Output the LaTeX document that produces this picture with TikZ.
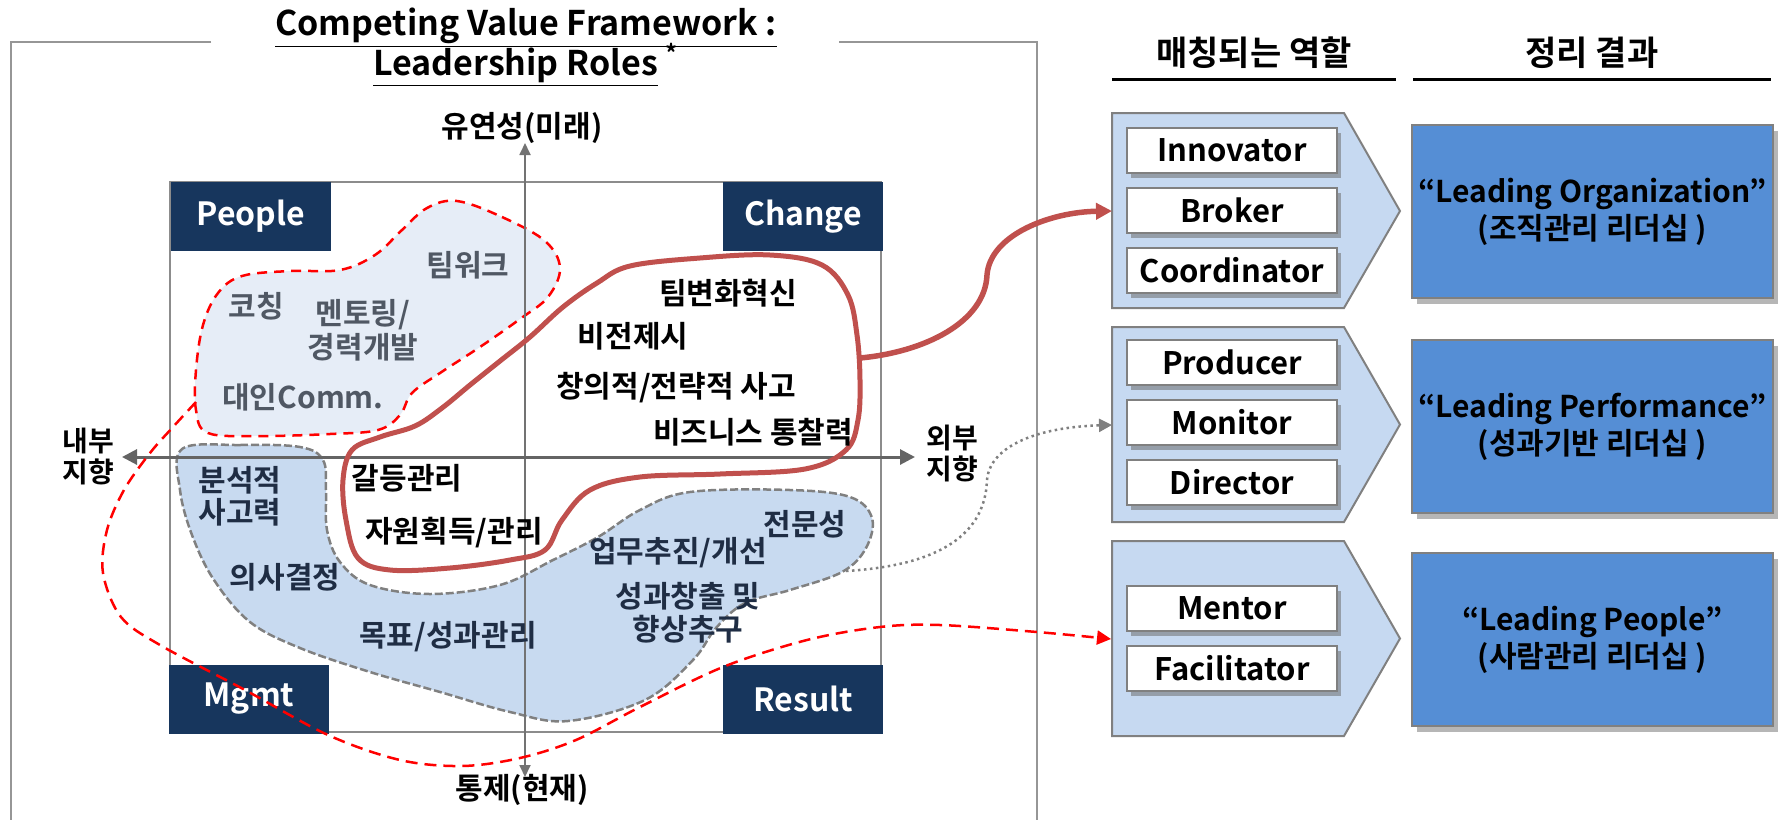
\documentclass[tikz,border=0pt]{standalone}
\usepackage{fontspec}
\setmainfont{Noto Sans CJK KR}[BoldFont={Noto Sans CJK KR Bold}]
\usetikzlibrary{arrows.meta,shadows}

\tikzset{every picture/.style={line width=0.75pt}}
\tikzset{
	corner box/.style={fill={rgb, 255:red, 23; green, 54; blue, 93}, text=white, minimum width=80pt, minimum height=34.5pt, inner sep=0pt, font=\fontsize{16}{19}\selectfont\bfseries},
	role box/.style={draw={rgb, 255:red, 128; green, 128; blue, 128}, line width=1pt, fill=white, minimum width=105pt, minimum height=22.5pt, inner sep=0pt, font=\fontsize{15.5}{18}\selectfont\bfseries, drop shadow={shadow xshift=2pt, shadow yshift=-2.5pt, fill={rgb, 255:red, 110; green, 110; blue, 110}, opacity=0.55}},
	result box/.style={draw={rgb, 255:red, 128; green, 128; blue, 128}, line width=1pt, fill={rgb, 255:red, 85; green, 142; blue, 213}, minimum width=180.5pt, minimum height=86.5pt, inner sep=0pt, align=center, font=\fontsize{15}{18.5}\selectfont\bfseries, drop shadow={shadow xshift=2.5pt, shadow yshift=-3pt, fill={rgb, 255:red, 110; green, 110; blue, 110}, opacity=0.5}},
	chevron/.style={draw={rgb, 255:red, 128; green, 128; blue, 128}, line width=1pt, fill={rgb, 255:red, 198; green, 217; blue, 241}},
	quad text/.style={font=\fontsize{15}{16.5}\selectfont\bfseries, align=center, inner sep=0pt},
	soft text/.style={quad text, text={rgb, 255:red, 80; green, 88; blue, 100}},
	navy text/.style={quad text, text={rgb, 255:red, 31; green, 45; blue, 68}},
	head text/.style={font=\fontsize{17}{19}\selectfont\bfseries, inner sep=0pt},
	title text/.style={font=\fontsize{17}{19}\selectfont\bfseries, inner sep=0pt}
}

\begin{document}
\begin{tikzpicture}[x=0.5pt,y=0.5pt,yscale=-1,xscale=1]
	\useasboundingbox (0,0) rectangle (1779,820);

	%Shape: Outer frame
	\draw [color={rgb, 255:red, 150; green, 150; blue, 150}, line width=1pt] (211,42) -- (11,42) -- (11,820) ;
	\draw [color={rgb, 255:red, 150; green, 150; blue, 150}, line width=1pt] (839,42) -- (1037,42) -- (1037,820) ;
	%Shape: Rectangle (quadrant frame)
	\draw [color={rgb, 255:red, 140; green, 140; blue, 140}, line width=1pt] (170,182) -- (881,182) -- (881,732) -- (170,732) -- cycle ;

	%Shape: Blob (people)
	\draw [color={rgb, 255:red, 255; green, 0; blue, 0}, line width=1.25pt, dash pattern=on 5pt off 3.5pt, fill={rgb, 255:red, 230; green, 237; blue, 247}]
		plot [smooth cycle, tension=0.6] coordinates {(457,201) (502,217) (545,241) (560,268) (548,297) (520,319) (480,347) (440,373) (412,393) (400,415) (378,430) (330,434) (260,436) (208,433) (196,410) (196,370) (203,325) (218,293) (242,276) (290,271) (340,270) (375,255) (402,230) (427,208)} ;
	%Shape: Blob (management / result)
	\draw [color={rgb, 255:red, 128; green, 128; blue, 128}, line width=1.25pt, dash pattern=on 4pt off 1.5pt, fill={rgb, 255:red, 200; green, 218; blue, 240}]
		plot [smooth cycle, tension=0.6] coordinates {(182,449) (240,445) (300,447) (323,460) (326,490) (327,530) (340,562) (370,585) (430,594) (500,585) (553,560) (598,537) (640,510) (690,492) (790,490) (850,497) (872,518) (866,548) (842,572) (790,590) (745,603) (716,628) (693,660) (645,700) (568,721) (510,712) (440,692) (370,672) (300,648) (250,622) (214,580) (192,535) (180,490)} ;

	%Straight Lines (axes)
	\coordinate (yT) at (525,143) ;
	\coordinate (yB) at (525,777) ;
	\coordinate (xL) at (122,457) ;
	\coordinate (xR) at (915,457) ;
	\draw [color={rgb, 255:red, 115; green, 115; blue, 115}, line width=0.9pt, {Triangle[length=6pt,width=5.5pt]}-{Triangle[length=6pt,width=5.5pt]}] (yB) -- (yT) ;
	\draw [color={rgb, 255:red, 100; green, 100; blue, 100}, line width=1.5pt, {Triangle[length=7.5pt,width=7.5pt]}-{Triangle[length=7.5pt,width=7.5pt]}] (xL) -- (xR) ;

	%Shape: Rectangle (corner boxes)
	\draw (251,216.5) node [corner box] (people) {People};
	\draw (803,216.5) node [corner box] (change) {Change};
	\draw (249,699) node [corner box] (mgmt) {Mgmt};
	\draw (803,699) node [corner box] (result) {Result};

	%Curve (change)
	\draw [color={rgb, 255:red, 192; green, 80; blue, 77}, line width=2.5pt]
		plot [smooth cycle, tension=0.6] coordinates {(630,266) (700,258) (770,255) (822,265) (848,295) (857,335) (860,380) (858,420) (846,450) (805,469) (720,474) (640,477) (590,490) (562,520) (545,550) (510,560) (450,568) (390,570) (358,558) (346,520) (343,480) (352,450) (380,437) (415,426) (442,408) (470,385) (500,361) (530,337) (563,307) (597,283)} ;

	%Shape: Chevron
	\draw [chevron] (1112,113) -- (1344,113) -- (1400,211) -- (1344,308) -- (1112,308) -- cycle ;
	\draw [chevron] (1112,327) -- (1344,327) -- (1400,424.5) -- (1344,522) -- (1112,522) -- cycle ;
	\draw [chevron] (1112,541) -- (1344,541) -- (1400,638.5) -- (1344,736) -- (1112,736) -- cycle ;
	\coordinate (chevA) at (1112,211) ;
	\coordinate (chevB) at (1112,425) ;
	\coordinate (chevC) at (1111,639) ;

	% Text Node
	\draw (1232,150.5) node [role box] (innov) {Innovator};
	\draw (1232,210.5) node [role box] (broker) {Broker};
	\draw (1232,270.5) node [role box] (coord) {Coordinator};
	\draw (1232,362.5) node [role box] (prod) {Producer};
	\draw (1232,422.5) node [role box] (monit) {Monitor};
	\draw (1232,482.5) node [role box] (direct) {Director};
	\draw (1232,608.5) node [role box] (mentor) {Mentor};
	\draw (1232,668.5) node [role box] (facil) {Facilitator};

	% Text Node
	\draw (1592.5,211.5) node [result box] (leadorg) {“Leading Organization”\\(조직관리 리더십 )};
	\draw (1592.5,426.5) node [result box] (leadperf) {“Leading Performance”\\(성과기반 리더십 )};
	\draw (1592.5,639.5) node [result box] (leadppl) {“Leading People”\\(사람관리 리더십 )};

	% Text Node (headers)
	\draw (1254,53) node [head text] (hrole) {매칭되는 역할};
	\draw (1592,53) node [head text] (hsum) {정리 결과};
	\draw [line width=1.5pt] (1112,79) -- (1396,79) ;
	\draw [line width=1.5pt] (1413,79) -- (1771,79) ;

	% Text Node (title)
	\draw (526,28) node [title text] (titlea) {\underline{Competing Value Framework :}};
	\draw (526,65) node [title text] (titleb) {\underline{Leadership Roles} \textsuperscript{*}};

	% Text Node (axes)
	\draw (522,128) node [quad text] (future) {유연성(미래)};
	\draw (522,790) node [quad text] (present) {통제(현재)};
	\draw (88,457) node [quad text, font=\fontsize{14}{15.5}\selectfont\bfseries] (inner) {내부\\지향};
	\draw (952,453) node [quad text, font=\fontsize{14}{15.5}\selectfont\bfseries] (outer) {외부\\지향};

	% Text Node (people)
	\draw (468,265) node [soft text] (teamwork) {팀워크};
	\draw (256,306) node [soft text] (coach) {코칭};
	\draw (363,330) node [soft text, font=\fontsize{15}{17}\selectfont\bfseries] (mentoring) {멘토링/\\경력개발};
	\draw (303,397) node [soft text] (comm) {대인Comm.};

	% Text Node (change)
	\draw (728,293) node [quad text] (teamchg) {팀변화혁신};
	\draw (633,336) node [quad text] (vision) {비전제시};
	\draw (676,388) node [quad text] (creative) {창의적/전략적 사고};
	\draw (753,432) node [quad text] (insight) {비즈니스 통찰력};
	\draw (407,478) node [quad text] (conflict) {갈등관리};
	\draw (454,533) node [quad text] (resource) {자원획득/관리};

	% Text Node (mgmt / result)
	\draw (240,496) node [navy text, font=\fontsize{15}{16}\selectfont\bfseries] (analytic) {분석적\\사고력};
	\draw (285,577) node [navy text] (decision) {의사결정};
	\draw (448,637) node [navy text] (goalmgmt) {목표/성과관리};
	\draw (678,553) node [navy text] (drive) {업무추진/개선};
	\draw (805,524) node [navy text] (expert) {전문성};
	\draw (688,613) node [navy text] (perform) {성과창출 및\\향상추구};

	% Connectors
	\coordinate (chgout) at (860,358) ;
	\coordinate (perfout) at (846,571) ;
	\coordinate (pplout) at (196,402) ;
	\draw [color={rgb, 255:red, 192; green, 80; blue, 77}, line width=2.75pt, -{Triangle[length=8pt,width=8pt]}] (chgout) .. controls (925,352) and (985,322) .. (987,275) .. controls (990,235) and (1050,212) .. (chevA) ;
	\draw [color={rgb, 255:red, 128; green, 128; blue, 128}, line width=1.25pt, dash pattern=on 1.25pt off 1.75pt, -{Triangle[length=6.5pt,width=6.5pt]}] (perfout) .. controls (930,566) and (985,540) .. (987,480) .. controls (990,445) and (1040,427) .. (chevB) ;
	\draw [color={rgb, 255:red, 255; green, 0; blue, 0}, line width=1.25pt, dash pattern=on 6pt off 3.5pt, -{Triangle[length=7pt,width=7pt]}]
		plot [smooth, tension=0.55] coordinates {(pplout) (173,427) (150,453) (124,490) (107,530) (103,573) (121,617) (160,645) (245,690) (328,735) (400,760) (462,766) (520,758) (576,740) (640,707) (723,667) (807,640) (880,627) (940,625) (1037,632) (chevC)} ;

\end{tikzpicture}
\end{document}
